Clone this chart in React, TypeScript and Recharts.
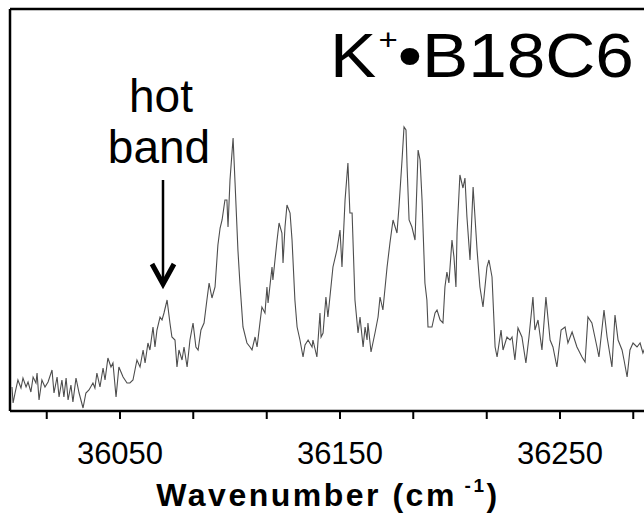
import { LineChart, Line, XAxis, YAxis, ReferenceLine } from "recharts";

// spectrum (wavenumber in cm^-1, intensity in arbitrary units)
const wavenumber = [
  36000.9, 36001.4, 36002.3, 36003.6, 36005.0, 36005.9, 36007.3, 36008.2, 36009.5, 36010.5,
  36011.8, 36012.3, 36013.2, 36014.5, 36015.9, 36017.3, 36019.1, 36020.0, 36021.4, 36022.3,
  36023.6, 36024.5, 36025.5, 36026.4, 36027.7, 36028.6, 36030.0, 36031.4, 36033.2, 36034.5,
  36035.9, 36037.7, 36038.6, 36039.5, 36040.9, 36042.3, 36043.2, 36044.5, 36045.9, 36046.8,
  36048.2, 36049.5, 36051.4, 36053.2, 36054.5, 36055.9, 36057.7, 36059.1, 36060.5, 36061.4,
  36062.7, 36063.6, 36065.0, 36065.9, 36066.8, 36068.2, 36069.1, 36070.0, 36071.4, 36072.7,
  36073.6, 36075.0, 36075.9, 36076.8, 36078.2, 36079.1, 36080.5, 36081.8, 36083.2, 36084.5,
  36085.5, 36086.8, 36088.2, 36089.5, 36090.5, 36091.8, 36093.2, 36094.5, 36095.5, 36096.4,
  36097.7, 36098.6, 36099.1, 36100.0, 36101.4, 36102.3, 36103.6, 36104.5, 36105.9, 36107.7,
  36109.1, 36110.0, 36111.4, 36112.3, 36113.6, 36114.5, 36115.9, 36116.8, 36117.3, 36119.1,
  36119.5, 36121.4, 36122.3, 36123.6, 36124.1, 36125.0, 36125.9, 36127.3, 36128.2, 36129.5,
  36130.5, 36131.8, 36133.2, 36134.1, 36135.5, 36137.3, 36137.7, 36139.5, 36140.9, 36141.4,
  36142.3, 36143.6, 36144.5, 36146.8, 36148.6, 36150.0, 36150.9, 36152.3, 36153.6, 36154.5,
  36155.5, 36156.8, 36158.2, 36159.1, 36160.5, 36161.4, 36162.3, 36162.7, 36164.1, 36165.9,
  36167.3, 36168.2, 36169.5, 36171.4, 36172.7, 36174.1, 36175.9, 36176.8, 36178.2, 36179.1,
  36180.0, 36180.5, 36181.4, 36182.7, 36184.1, 36185.0, 36185.5, 36186.4, 36187.3, 36188.6,
  36189.5, 36190.0, 36191.8, 36193.2, 36194.1, 36195.5, 36196.8, 36197.7, 36198.6, 36199.5,
  36200.9, 36201.8, 36202.7, 36203.2, 36204.5, 36205.9, 36206.8, 36207.7, 36209.1, 36210.5,
  36212.3, 36213.6, 36215.0, 36216.8, 36217.7, 36219.1, 36220.5, 36221.4, 36223.2, 36224.1,
  36225.9, 36227.3, 36228.2, 36229.5, 36230.9, 36232.7, 36234.5, 36235.9, 36237.7, 36238.6,
  36240.0, 36241.8, 36243.6, 36245.5, 36246.8, 36248.6, 36250.5, 36252.3, 36253.6, 36255.5,
  36257.7, 36260.0, 36261.4, 36262.7, 36264.5, 36266.8, 36267.7, 36270.0, 36271.4, 36273.6,
  36275.0, 36276.4, 36278.2, 36279.1, 36280.5, 36281.8, 36283.2, 36285.0, 36286.4, 36287.7,
  36289.1,
];

const intensity = [
  24, 8, 18, 31, 23, 33, 24, 29, 19, 34,
  28, 38, 11, 31, 24, 29, 41, 18, 34, 14,
  31, 14, 33, 11, 26, 9, 33, 18, 3, 18,
  21, 28, 23, 38, 24, 43, 31, 53, 44, 48,
  14, 44, 34, 28, 28, 31, 51, 44, 61, 48,
  68, 61, 84, 64, 81, 94, 91, 98, 111, 88,
  74, 71, 44, 61, 51, 64, 44, 71, 88, 64,
  61, 81, 88, 111, 128, 113, 124, 166, 183, 191,
  211, 211, 184, 231, 273, 228, 161, 128, 84, 68,
  64, 61, 74, 64, 88, 104, 98, 124, 108, 144,
  131, 171, 188, 178, 148, 184, 206, 198, 171, 111,
  84, 71, 54, 66, 71, 64, 71, 54, 98, 74,
  78, 114, 94, 144, 161, 181, 144, 211, 248, 198,
  198, 111, 78, 94, 64, 84, 71, 88, 59, 78,
  94, 114, 101, 144, 168, 191, 178, 204, 251, 284,
  281, 244, 191, 184, 171, 228, 261, 251, 211, 128,
  111, 84, 84, 98, 101, 91, 88, 124, 139, 128,
  171, 154, 124, 178, 236, 223, 233, 194, 151, 224,
  161, 124, 104, 144, 151, 134, 64, 54, 81, 61,
  74, 71, 74, 51, 83, 74, 48, 74, 114, 81,
  91, 61, 114, 71, 64, 44, 81, 84, 68, 79,
  64, 54, 49, 94, 88, 64, 54, 101, 74, 44,
  96, 71, 61, 51, 34, 61, 68, 64, 68, 58,
  66,
];

const tickValues = [36016.7, 36050, 36083.3, 36116.7, 36150, 36183.3, 36216.7, 36250, 36283.3];
const tickLabels = [36050, 36150, 36250];

const data = wavenumber.map((wn, i) => ({ wn, y: intensity[i] }));

const FONT = "'Liberation Sans', Arial, Helvetica, sans-serif";

export default function App() {
  return (
    <div
      style={{
        position: "fixed",
        left: 0,
        top: 0,
        width: 644,
        height: 515,
        overflow: "hidden",
        background: "#fff",
      }}
    >
      <LineChart
        width={680}
        height={515}
        data={data}
        margin={{ top: 9, right: 10, bottom: 0, left: 10 }}
      >
        <XAxis
          dataKey="wn"
          type="number"
          domain={[36000, 36300]}
          ticks={tickValues}
          interval={0}
          height={104}
          tickSize={8}
          tickMargin={23}
          axisLine={{ stroke: "#000", strokeWidth: 2.5 }}
          tickLine={{ stroke: "#000", strokeWidth: 2 }}
          tick={{ fill: "#000", fontSize: 31, fontFamily: FONT }}
          tickFormatter={(v: number) =>
            tickLabels.includes(Math.round(v)) ? String(Math.round(v)) : ""
          }
          allowDataOverflow
        />
        <YAxis type="number" domain={[0, 402]} hide allowDataOverflow />
        <ReferenceLine y={402} stroke="#000" strokeWidth={2.5} />
        <ReferenceLine x={36000} stroke="#000" strokeWidth={2.5} />
        <Line
          type="linear"
          dataKey="y"
          stroke="#4d4d4d"
          strokeWidth={1.1}
          dot={false}
          isAnimationActive={false}
        />
      </LineChart>
      <svg
        width={644}
        height={515}
        style={{ position: "absolute", left: 0, top: 0, pointerEvents: "none" }}
      >
        <g transform="translate(330,77) scale(1.1,1)">
          <text x={0} y={0} fontFamily={FONT} fontSize={63} fill="#000">
            K
            <tspan fontSize={30} dy={-27} dx={2}>+</tspan>
            <tspan fontSize={63} dy={27}>•B18C6</tspan>
          </text>
        </g>
        <text x={161} y={112} fontFamily={FONT} fontSize={46} textAnchor="middle" fill="#000">
          hot
        </text>
        <text x={159} y={163} fontFamily={FONT} fontSize={46} textAnchor="middle" fill="#000">
          band
        </text>
        <line x1={163} y1={180} x2={163} y2={282} stroke="#000" strokeWidth={2.5} />
        <polyline
          points="152,264 163,284 174,264"
          fill="none"
          stroke="#000"
          strokeWidth={5}
        />
        <text
          x={328}
          y={506}
          fontFamily={FONT}
          fontSize={32}
          fontWeight="bold"
          letterSpacing={2.5}
          textAnchor="middle"
          fill="#000"
        >
          Wavenumber (cm
          <tspan fontSize={19} dy={-14}> -1</tspan>
          <tspan fontSize={32} dy={14}>)</tspan>
        </text>
      </svg>
    </div>
  );
}
